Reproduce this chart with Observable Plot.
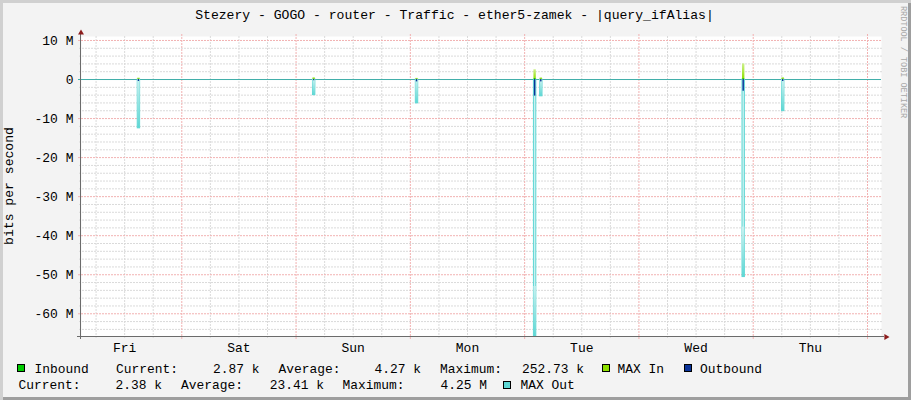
<!DOCTYPE html>
<html><head><meta charset="utf-8">
<script src="https://cdn.jsdelivr.net/npm/d3@7"></script>
<script src="https://cdn.jsdelivr.net/npm/@observablehq/plot@0.6"></script>
<style>
html,body{margin:0;padding:0;background:#F3F3F3;}
#wrap{position:relative;width:911px;height:400px;background:#F3F3F3;overflow:hidden;
  box-shadow: inset 3px 3px 0 0 #D0D0D0, inset -3px -3px 0 0 #9E9E9E;}
#wrap svg{position:absolute;left:0;top:0;}
</style></head><body><div id="wrap"></div>
<script>
// ---- chart content ----
const title = "Stezery - GOGO - router - Traffic - ether5-zamek - |query_ifAlias|";
const yAxisLabel = "bits per second";
const watermark = "RRDTOOL / TOBI OETIKER";
const dayLabels = ["Fri", "Sat", "Sun", "Mon", "Tue", "Wed", "Thu"];
const dayNoonHours = [12, 36, 60, 84, 108, 132, 156];   // hours after Thu 00:00
const yTickValues = [10, 0, -10, -20, -30, -40, -50, -60]; // Mbit/s
const timeDomain = [2.94, 170.94];                       // one week, hours
const valueDomain = [-65.82, 11.02];                     // Mbit/s

// traffic bursts (hours after Thu 00:00) and values in Mbit/s (out drawn negative)
const spikeHours = [15.0, 51.8, 73.4, 98.2, 99.5, 142.0, 150.3];
const maxOutM   = [-12.5, -4.0, -6.1, -65.82, -4.3, -50.6, -8.1];
const outboundM = [-0.5, -0.3, -0.6, -4.25, -0.6, -3.0, -0.5];
const maxInM    = [0.4, 0.5, 0.3, 2.5, 0.45, 4.0, 0.5];
const inboundM  = [0.05, 0.05, 0.05, 0.25, 0.05, 0.2, 0.05];

// legend
const statLabels = ["Current:", "Average:", "Maximum:"];
const inboundStats = ["2.87 k", "4.27 k", "252.73 k"];
const outboundStats = ["2.38 k", "23.41 k", "4.25 M"];
const seriesNames = ["Inbound", "MAX In", "Outbound", "MAX Out"];
const seriesColors = ["#00CC00", "#8EE000", "#0A3399", "#5ED7D4"];

// ---- build ----
const spikes = spikeHours.map((h, i) => ({h, maxOut: maxOutM[i], out: outboundM[i], maxIn: maxInM[i], inb: inboundM[i]}));
const plotTop = 36, plotBottom = 336;
const pxPerM = (plotBottom - plotTop) / (valueDomain[1] - valueDomain[0]);
const gradSpanM = 50 / pxPerM;

const minorY = d3.range(-64, 11, 2).filter(v => v % 10 !== 0);
const majorY = d3.range(-60, 11, 10).filter(v => v !== 0);
const minorX = d3.range(6, 171, 6).filter(h => h % 24 !== 0 && h > timeDomain[0]);
const majorX = d3.range(24, 171, 24);
const grey = "#DADADA", red = "#F2B2B2", dash = "2,1";

const chart = Plot.plot({
  width: 911, height: 400,
  marginLeft: 81, marginRight: 30, marginTop: plotTop, marginBottom: 400 - plotBottom,
  style: {background: "transparent", fontFamily: "'Liberation Mono', monospace", fontSize: "13px", color: "#000", overflow: "visible"},
  x: {domain: timeDomain, axis: null},
  y: {domain: valueDomain, axis: null},
  marks: [
    Plot.frame({fill: "white", stroke: null}),
    Plot.ruleY(minorY, {stroke: grey, strokeDasharray: dash, insetLeft: -2, insetRight: -1}),
    Plot.ruleX(minorX, {stroke: grey, strokeDasharray: dash, insetBottom: -2}),
    Plot.ruleY(majorY, {stroke: red, strokeDasharray: dash, insetLeft: -3, insetRight: -1}),
    Plot.ruleX(majorX, {stroke: red, strokeDasharray: dash, insetBottom: -3, insetTop: -2}),
    Plot.ruleY([0], {stroke: "#3FAEA9", insetLeft: -3}),
    // MAX Out
    Plot.rect(spikes, {x1: d => d.h - 0.25, x2: d => d.h + 0.25, y1: d => 0, y2: "maxOut", fill: "#C9F1F0", stroke: seriesColors[3], strokeWidth: 1}),
    Plot.rect(spikes, {x1: d => d.h - 0.25, x2: d => d.h + 0.25, y1: d => Math.min(0, d.maxOut + gradSpanM), y2: "maxOut", fill: "url(#gradCyan)"}),
    // Outbound
    Plot.rect(spikes, {x1: d => d.h - 0.15, x2: d => d.h + 0.15, y1: d => 0, y2: "out", fill: seriesColors[2]}),
    // MAX In
    Plot.rect(spikes, {x1: d => d.h - 0.25, x2: d => d.h + 0.25, y1: d => 0, y2: "maxIn", fill: "url(#gradGreen)"}),
    // Inbound
    Plot.rect(spikes, {x1: d => d.h - 0.15, x2: d => d.h + 0.15, y1: d => 0, y2: "inb", fill: seriesColors[0]}),
    // axes
    Plot.axisY(yTickValues, {tickSize: 0, tickPadding: 8, label: null, tickFormat: d => d === 0 ? "0" : `${d} M`}),
    Plot.axisX(dayNoonHours, {tickSize: 0, tickPadding: 6, label: null, tickFormat: d => dayLabels[dayNoonHours.indexOf(d)]}),
    Plot.ruleX([timeDomain[0]], {stroke: "#6B6B6B", insetTop: -2, insetBottom: -3, dx: -1}),
    Plot.ruleY([valueDomain[0]], {stroke: "#6B6B6B", insetLeft: -4, insetRight: -3}),
    Plot.dot([0], {frameAnchor: "top-left", symbol: "triangle", r: 2.2, fill: "#8C1C1C", dx: -0.5, dy: -3.6}),
    Plot.dot([0], {frameAnchor: "bottom-right", symbol: "triangle", r: 2.2, fill: "#8C1C1C", rotate: 90, dx: 4.6, dy: 0.5})
  ]
});
document.getElementById("wrap").appendChild(chart);

// ---- overlay: gradients, title, axis label, legend, watermark ----
const ov = d3.select("#wrap").append("svg").attr("width", 911).attr("height", 400)
  .style("font-family", "'Liberation Mono', monospace").style("pointer-events", "none");
const defs = ov.append("defs");
const gc = defs.append("linearGradient").attr("id", "gradCyan").attr("x1", 0).attr("y1", 0).attr("x2", 0).attr("y2", 1);
gc.append("stop").attr("offset", 0).attr("stop-color", "#C9F1F0");
gc.append("stop").attr("offset", 1).attr("stop-color", seriesColors[3]);
const gg = defs.append("linearGradient").attr("id", "gradGreen").attr("x1", 0).attr("y1", 0).attr("x2", 0).attr("y2", 1);
gg.append("stop").attr("offset", 0).attr("stop-color", "#CDF08C");
gg.append("stop").attr("offset", 1).attr("stop-color", seriesColors[1]);

ov.append("text").attr("x", 454.5).attr("y", 19).attr("text-anchor", "middle")
  .style("font-size", "13.1px").attr("fill", "#000").text(title);
ov.append("text").attr("transform", "translate(12.6,186) rotate(-90)").attr("text-anchor", "middle")
  .style("font-size", "13.1px").attr("fill", "#000").text(yAxisLabel);
ov.append("text").attr("transform", "translate(901,6) rotate(90)").attr("text-anchor", "start")
  .style("font-size", "8.5px").attr("fill", "#A8A8A8").text(watermark);

function box(x, y, color) {
  ov.append("rect").attr("x", x + 0.5).attr("y", y + 0.5).attr("width", 7).attr("height", 7)
    .attr("fill", color).attr("stroke", "#000").attr("stroke-width", 1);
}
function txt(x, y, s, anchor) {
  ov.append("text").attr("x", x).attr("y", y).attr("text-anchor", anchor || "start")
    .style("font-size", "12.9px").attr("fill", "#000").text(s);
}
const r1 = 372.5, r2 = 389.3;
box(17, 364, seriesColors[0]); txt(34.5, r1, seriesNames[0]);
txt(116, r1, statLabels[0]); txt(259.5, r1, inboundStats[0], "end");
txt(278.5, r1, statLabels[1]); txt(421, r1, inboundStats[1], "end");
txt(440, r1, statLabels[2]); txt(584, r1, inboundStats[2], "end");
box(602, 364, seriesColors[1]); txt(617.5, r1, seriesNames[1]);
box(684, 364, seriesColors[2]); txt(700, r1, seriesNames[2]);
txt(18.5, r2, statLabels[0]); txt(162, r2, outboundStats[0], "end");
txt(181, r2, statLabels[1]); txt(324, r2, outboundStats[1], "end");
txt(342.5, r2, statLabels[2]); txt(487, r2, outboundStats[2], "end");
box(503, 381, seriesColors[3]); txt(520.5, r2, seriesNames[3]);
</script></body></html>
